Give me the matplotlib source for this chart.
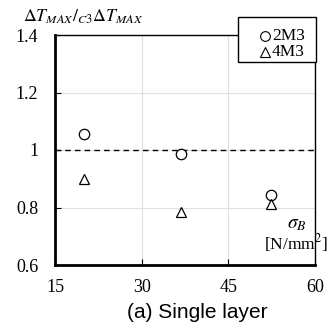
import matplotlib.pyplot as plt
from matplotlib.lines import Line2D
from matplotlib.patches import Rectangle
from matplotlib.ticker import FuncFormatter

plt.rcParams['font.family'] = 'Liberation Serif'
plt.rcParams['mathtext.fontset'] = 'stix'

sigma_2m3 = [20.0, 36.8, 52.4]
ratio_2m3 = [1.055, 0.985, 0.845]
sigma_4m3 = [20.0, 36.8, 52.4]
ratio_4m3 = [0.90, 0.785, 0.812]
series_names = ['2M3', '4M3']
series_markers = ['o', '^']

xticks = [15, 30, 45, 60]
yticks = [0.6, 0.8, 1.0, 1.2, 1.4]

fig = plt.figure(figsize=(3.29, 3.29), dpi=100)
ax = fig.add_axes([55/329, 1 - 265/329, (315 - 55)/329, (265 - 35)/329])

ax.grid(True, color='#e0e0e0', linewidth=0.8)
ax.set_axisbelow(True)
ax.axhline(1.0, color='black', linestyle=(0, (4, 3)), linewidth=1.0)

ax.plot(sigma_2m3, ratio_2m3, series_markers[0], mfc='white', mec='black', mew=0.9, ms=7.5)
ax.plot(sigma_4m3, ratio_4m3, series_markers[1], mfc='white', mec='black', mew=0.9, ms=7.5)

ax.set_xlim(15, 60)
ax.set_ylim(0.6, 1.4)
ax.set_xticks(xticks)
ax.set_yticks(yticks)
ax.yaxis.set_major_formatter(FuncFormatter(lambda v, p: '1' if abs(v - 1) < 1e-9 else '%.1f' % v))
ax.tick_params(direction='in', labelsize=13, length=4)
ax.tick_params(axis='x', pad=10)
ax.tick_params(axis='y', pad=12)

for s in ['left', 'bottom']:
    ax.spines[s].set_linewidth(2.0)
for s in ['top', 'right']:
    ax.spines[s].set_linewidth(1.0)

# hand made legend box (symbol sits right next to the label)
fig.add_artist(Rectangle((238/329, 1 - 62/329), 78/329, 45/329, transform=fig.transFigure,
                         facecolor='white', edgecolor='black', linewidth=1.0, zorder=5))
for i, (name, mk) in enumerate(zip(series_names, series_markers)):
    yy = 1 - (36 + 16 * i) / 329
    fig.add_artist(Line2D([265/329], [yy], transform=fig.transFigure, marker=mk, ms=7,
                          mfc='white', mec='black', mew=0.8, linestyle='none', zorder=6))
    fig.text(272/329, yy, name, fontsize=12.5, ha='left', va='center', zorder=6)

fig.text(23/329, 1 - 17/329, r'$\Delta T_{MAX}/_{C3}\Delta T_{MAX}$', fontsize=12.8, va='center', ha='left')

fig.text(297/329, 1 - 225/329, r'$\sigma_B$', fontsize=14, ha='center', va='center')
fig.text(328/329, 1 - 243/329, r'[N/mm$^2$]', fontsize=12.5, ha='right', va='center')

fig.text(197/329, 1 - 312/329, '(a) Single layer', family='Liberation Sans', fontsize=15, ha='center', va='center')

plt.savefig('out.png', dpi=100)
